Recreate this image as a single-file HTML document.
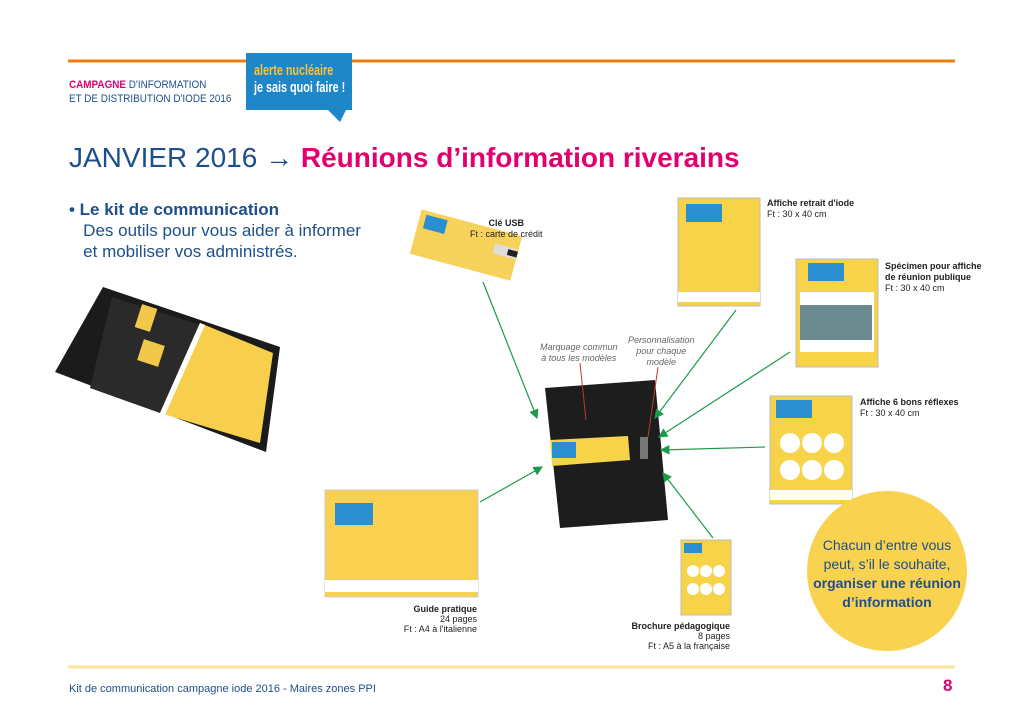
<!DOCTYPE html>
<html><head><meta charset="utf-8"><style>
body{margin:0;width:1024px;height:724px;background:#fff;position:relative;overflow:hidden;font-family:"Liberation Sans",sans-serif}
.a{position:absolute;white-space:nowrap}
.n{font-family:"Liberation Sans Narrow","Liberation Sans",sans-serif}
</style></head><body>
<svg class="a" style="left:0;top:0" width="1024" height="724">
<defs><marker id="ar" markerWidth="8" markerHeight="8" refX="7" refY="4" orient="auto"><path d="M0,0L8,4L0,8z" fill="#1a9a4a"/></marker></defs>
<line x1="68" y1="61" x2="955" y2="61" stroke="#ee7d11" stroke-width="3"/>
<line x1="68" y1="667" x2="955" y2="667" stroke="#fde49a" stroke-width="3"/>
<path d="M246,53H352V110H346L340,122L328,110H246Z" fill="#1f86c8"/>
<polygon points="103,287 280,347 266,452 55,372" fill="#1b1b1b"/>
<polygon points="112,297 200,325 160,413 90,388" fill="#2a2a2a"/>
<polygon points="200,323 273,353 260,443 160,413" fill="#f7cf4c"/>
<polygon points="200,323 205,325 165,415 160,413" fill="#fff"/>
<rect x="138" y="306" width="16" height="24" fill="#f2c84a" transform="rotate(18 146 318)"/>
<rect x="140" y="342" width="22" height="22" fill="#f2c84a" transform="rotate(18 151 353)"/>
<g transform="rotate(15 466 245)"><rect x="414" y="222" width="104" height="46" fill="#f7d25a"/><rect x="420" y="226" width="22" height="14" fill="#2b8ed0"/><rect x="494" y="236" width="22" height="10" fill="#ddd"/><rect x="508" y="238" width="10" height="6" fill="#222"/></g>
<polygon points="545,388 655,380 668,520 560,528" fill="#1d1d1d"/>
<polygon points="550,440 628,436 630,460 552,466" fill="#f7d34a"/>
<rect x="552" y="442" width="24" height="16" fill="#2b8ed0"/>
<rect x="640" y="437" width="8" height="22" fill="#777"/>
<rect x="678" y="198" width="82" height="108" fill="#f7d34a" stroke="#bbb"/>
<rect x="678" y="292" width="82" height="10" fill="#fff"/>
<rect x="686" y="204" width="36" height="18" fill="#2b8ed0"/>
<rect x="796" y="259" width="82" height="108" fill="#f7d34a" stroke="#bbb"/>
<rect x="800" y="292" width="74" height="60" fill="#fff"/>
<rect x="800" y="305" width="72" height="35" fill="#6c8a90"/>
<rect x="808" y="263" width="36" height="18" fill="#2b8ed0"/>
<rect x="770" y="396" width="82" height="108" fill="#f7d34a" stroke="#bbb"/>
<rect x="776" y="400" width="36" height="18" fill="#2b8ed0"/>
<g fill="#fff"><circle cx="790" cy="443" r="10"/><circle cx="812" cy="443" r="10"/><circle cx="834" cy="443" r="10"/><circle cx="790" cy="470" r="10"/><circle cx="812" cy="470" r="10"/><circle cx="834" cy="470" r="10"/></g>
<rect x="770" y="490" width="82" height="10" fill="#fff"/>
<rect x="325" y="490" width="153" height="107" fill="#f9d04f" stroke="#ccc"/>
<rect x="325" y="580" width="153" height="12" fill="#fff"/>
<rect x="335" y="503" width="38" height="22" fill="#2b8ed0"/>
<rect x="681" y="540" width="50" height="75" fill="#f7d34a" stroke="#bbb"/>
<rect x="684" y="543" width="18" height="10" fill="#2b8ed0"/>
<g fill="#fff"><circle cx="693" cy="571" r="6"/><circle cx="706" cy="571" r="6"/><circle cx="719" cy="571" r="6"/><circle cx="693" cy="589" r="6"/><circle cx="706" cy="589" r="6"/><circle cx="719" cy="589" r="6"/></g>
<circle cx="887" cy="571" r="80" fill="#f9d34f"/>
<g stroke="#1a9a4a" stroke-width="1.2" marker-end="url(#ar)">
<line x1="483" y1="282" x2="537" y2="418"/>
<line x1="736" y1="310" x2="655" y2="418"/>
<line x1="790" y1="352" x2="659" y2="437"/>
<line x1="765" y1="447" x2="661" y2="450"/>
<line x1="713" y1="538" x2="663" y2="473"/>
<line x1="480" y1="502" x2="542" y2="467"/>
</g>
<g stroke="#c0392b" stroke-width="1"><line x1="580" y1="363" x2="586" y2="420"/><line x1="658" y1="367" x2="648" y2="437"/></g>
</svg>
<div class="a" style="left:254px;top:62px;color:#f5c43a;font-size:15px;font-weight:bold;line-height:17px;transform:scaleX(0.72);transform-origin:0 0">alerte nucléaire<br><span style="color:#fff">je sais quoi faire !</span></div>
<div class="a" style="left:69px;top:78px;font-size:11px;color:#1e4f8a;line-height:14px;transform:scaleX(0.9);transform-origin:0 0"><b style="color:#e2006f">CAMPAGNE</b> D'INFORMATION<br>ET DE DISTRIBUTION D'IODE 2016</div>
<div class="a" style="left:69px;top:142px;font-size:28px;color:#1e4f8a">JANVIER 2016 → <b style="color:#e2006f">Réunions d’information riverains</b></div>
<div class="a" style="left:69px;top:199px;font-size:17px;color:#1e4f8a;line-height:21px"><b>• Le kit de communication</b><br>&nbsp;&nbsp;&nbsp;Des outils pour vous aider à  informer<br>&nbsp;&nbsp;&nbsp;et mobiliser vos administrés.</div>
<div class="a" style="left:470px;top:218px;font-size:9px;color:#222;text-align:center;line-height:11px"><b>Clé USB</b><br>Ft : carte de crédit</div>
<div class="a" style="left:767px;top:198px;font-size:9px;color:#222;line-height:11px"><b>Affiche retrait d'iode</b><br>Ft : 30 x 40 cm</div>
<div class="a" style="left:885px;top:261px;font-size:9px;color:#222;line-height:11px"><b>Spécimen pour affiche<br>de réunion publique</b><br>Ft : 30 x 40 cm</div>
<div class="a" style="left:860px;top:397px;font-size:9px;color:#222;line-height:11px"><b>Affiche 6 bons réflexes</b><br>Ft : 30 x 40 cm</div>
<div class="a" style="left:400px;top:604px;width:77px;font-size:9px;color:#222;line-height:10px;text-align:right"><b>Guide pratique</b><br>24 pages<br>Ft : A4 à l'italienne</div>
<div class="a" style="left:630px;top:621px;width:100px;font-size:9px;color:#222;line-height:10px;text-align:right"><b>Brochure pédagogique</b><br>8 pages<br>Ft : A5 à la française</div>
<div class="a" style="left:540px;top:342px;font-size:9px;color:#666;font-style:italic;text-align:center;line-height:11px">Marquage commun<br>à tous les modèles</div>
<div class="a" style="left:628px;top:335px;font-size:9px;color:#666;font-style:italic;text-align:center;line-height:11px">Personnalisation<br>pour chaque<br>modèle</div>
<div class="a" style="left:807px;top:536px;width:160px;text-align:center;font-size:14px;color:#1e4f8a;line-height:19px">Chacun d’entre vous<br>peut, s’il le souhaite,<br><b>organiser une réunion<br>d’information</b></div>
<div class="a" style="left:69px;top:683px;font-size:11px;color:#1e4f8a">Kit de communication campagne iode 2016 - Maires zones PPI</div>
<div class="a" style="left:943px;top:676px;font-size:17px;font-weight:bold;color:#e2006f">8</div>
</body></html>
